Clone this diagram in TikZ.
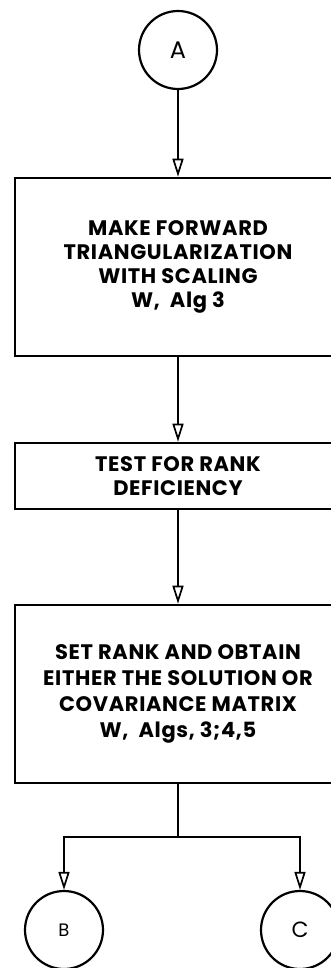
\documentclass[tikz,border=0pt]{standalone}
\usepackage{fontspec}
\setmainfont{Poppins}
\usetikzlibrary{arrows.meta, positioning}

\begin{document}
\begin{tikzpicture}[x=1pt, y=-1pt,
  stepbox/.style={draw, line width=2.6pt, minimum width=326pt, align=center, inner sep=0pt, font=\fontsize{21}{24}\selectfont\bfseries\addfontfeatures{LetterSpace=3}},
  term/.style={draw, circle, line width=2.2pt, minimum size=78pt, inner sep=0pt, font=\fontsize{24}{26}\selectfont},
  flow/.style={line width=2.6pt, -{Triangle[open, length=18pt, width=11pt, line width=1.7pt]}}
]
  \useasboundingbox (0,0) rectangle (331,968);
  \node[term] (a) at (178,50) {A};
  \node[stepbox, minimum height=178pt] (tri) at (178,267) {MAKE FORWARD\\TRIANGULARIZATION\\WITH SCALING\\W,\ \ Alg 3};
  \node[stepbox, minimum height=66pt] (rank) at (178,476) {TEST FOR RANK\\DEFICIENCY};
  \node[stepbox, minimum height=178pt, font=\fontsize{21}{26}\selectfont\bfseries\addfontfeatures{LetterSpace=3}] (solve) at (178,694) {SET RANK AND OBTAIN\\EITHER THE SOLUTION OR\\COVARIANCE MATRIX\\W,\ \ Algs,\ 3;4,5};
  \node[term, font=\fontsize{18}{20}\selectfont] (b) at (64,930) {B};
  \node[term, font=\fontsize{22}{24}\selectfont] (c) at (300,930) {C};
  \coordinate (split) at (178,837);
  \draw[flow] (a) -- (tri);
  \draw[flow] (tri) -- (rank);
  \draw[flow] (rank) -- (solve);
  \draw[line width=2.6pt] (solve) -- (split);
  \draw[flow] (split) -| (b);
  \draw[flow] (split) -| (c);
\end{tikzpicture}
\end{document}
